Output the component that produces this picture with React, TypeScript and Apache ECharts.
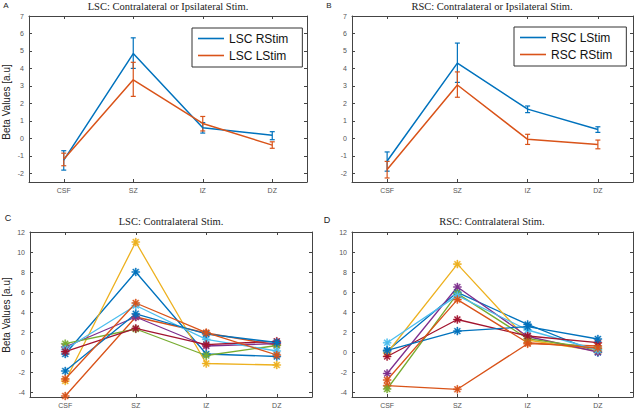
import React, { useEffect, useRef } from "react";
import * as echarts from "echarts";

const categories = ["CSF", "SZ", "IZ", "DZ"];
const ticksTop = [-2, -1, 0, 1, 2, 3, 4, 5, 6, 7];
const ticksBottom = [-4, -2, 0, 2, 4, 6, 8, 10, 12];

// Panel A
const lscRStim = [-1.25, 4.85, 0.6, 0.18];
const lscRStimLow = [-1.82, 4.0, 0.3, -0.08];
const lscRStimHigh = [-0.71, 5.75, 0.9, 0.38];
const lscLStim = [-1.2, 3.35, 0.85, -0.39];
const lscLStimLow = [-1.57, 2.4, 0.42, -0.57];
const lscLStimHigh = [-0.85, 4.35, 1.25, -0.2];

// Panel B
const rscLStim = [-1.3, 4.3, 1.67, 0.5];
const rscLStimLow = [-1.88, 3.2, 1.47, 0.34];
const rscLStimHigh = [-0.78, 5.45, 1.85, 0.66];
const rscRStim = [-1.78, 3.05, -0.06, -0.35];
const rscRStimLow = [-2.27, 2.35, -0.35, -0.6];
const rscRStimHigh = [-1.32, 3.8, 0.23, -0.1];

// Panel C (individual subjects)
const lscSubjects = [
  [-0.2, 8.0, -0.2, -0.45],
  [-4.4, 3.5, 1.9, 0.7],
  [-2.9, 11.0, -1.15, -1.3],
  [0.5, 3.5, 0.6, 0.85],
  [0.83, 2.3, -0.35, 0.65],
  [0.27, 4.65, 1.26, 0.1],
  [0.04, 2.36, 0.74, 1.07],
  [-1.9, 3.82, 1.8, 0.95],
  [-2.7, 4.9, 1.93, -0.3],
];

// Panel D (individual subjects)
const rscSubjects = [
  [0.1, 5.97, 2.76, -0.05],
  [-3.37, -3.73, 0.83, 0.6],
  [-0.1, 8.79, 1.2, 0.1],
  [-2.15, 6.5, 1.55, 0.0],
  [-3.7, 5.84, 1.33, 0.3],
  [0.93, 5.64, 2.2, 0.2],
  [-0.45, 3.25, 1.6, 0.93],
  [0.17, 2.09, 2.53, 1.3],
  [-2.8, 5.24, 0.93, 0.4],
];

const palette = ["#0072BD", "#D95319", "#EDB120", "#7E2F8E", "#77AC30", "#4DBEEE", "#A2142F"];

const AXIS = "#444";
const LABEL = "#555";
const STAR =
  "path://M-5,-0.7L5,-0.7L5,0.7L-5,0.7Z M-0.7,-5L0.7,-5L0.7,5L-0.7,5Z M-3.04,-4.03L4.03,3.04L3.04,4.03L-4.03,-3.04Z M3.04,-4.03L4.03,-3.04L-3.04,4.03L-4.03,3.04Z";

const grids = [
  { left: 29, top: 16, width: 278, height: 166 },
  { left: 352, top: 16, width: 281, height: 166 },
  { left: 30, top: 232, width: 282, height: 165 },
  { left: 352, top: 232, width: 281, height: 165 },
];

function buildAxes() {
  const xAxis: any[] = [];
  const yAxis: any[] = [];
  grids.forEach((_, p) => {
    const ticks = p < 2 ? ticksTop : ticksBottom;
    const min = p < 2 ? -2.5 : -4.5;
    const max = p < 2 ? 7 : 12;
    ["bottom", "top"].forEach((pos) => {
      xAxis.push({
        type: "category",
        gridIndex: p,
        position: pos,
        data: categories,
        boundaryGap: true,
        axisLine: { show: true, onZero: false, lineStyle: { color: AXIS, width: 1 } },
        axisTick: { show: true, inside: true, alignWithLabel: true, length: 3, lineStyle: { color: AXIS } },
        axisLabel: { show: pos === "bottom", fontSize: 7, color: LABEL, margin: 5, fontFamily: "Liberation Sans" },
        splitLine: { show: false },
      });
    });
    ["left", "right"].forEach((pos) => {
      yAxis.push({
        type: "value",
        gridIndex: p,
        position: pos,
        min,
        max,
        axisLine: { show: true, onZero: false, lineStyle: { color: AXIS, width: 1 } },
        axisTick: { show: true, inside: true, length: 3, customValues: ticks, lineStyle: { color: AXIS } },
        axisLabel: { show: pos === "left", customValues: ticks, fontSize: 7, color: LABEL, margin: 5, fontFamily: "Liberation Sans" },
        splitLine: { show: false },
      });
    });
  });
  return { xAxis, yAxis };
}

function errorSeries(p: number, low: number[], high: number[], color: string) {
  return {
    type: "custom",
    xAxisIndex: 2 * p,
    yAxisIndex: 2 * p,
    silent: true,
    z: 3,
    encode: { x: 0, y: [1, 2] },
    data: categories.map((_, i) => [i, low[i], high[i]]),
    renderItem: (params: any, api: any) => {
      const x = api.value(0);
      const lo = api.coord([x, api.value(1)]);
      const hi = api.coord([x, api.value(2)]);
      const w = 2.5;
      const st = { stroke: color, lineWidth: 1.2 };
      return {
        type: "group",
        children: [
          { type: "line", shape: { x1: lo[0], y1: lo[1], x2: hi[0], y2: hi[1] }, style: st },
          { type: "line", shape: { x1: lo[0] - w, y1: lo[1], x2: lo[0] + w, y2: lo[1] }, style: st },
          { type: "line", shape: { x1: hi[0] - w, y1: hi[1], x2: hi[0] + w, y2: hi[1] }, style: st },
        ],
      };
    },
  };
}

function meanSeries(p: number, name: string, data: number[], color: string) {
  return {
    type: "line",
    name,
    xAxisIndex: 2 * p,
    yAxisIndex: 2 * p,
    data,
    symbol: "none",
    z: 3,
    color,
    lineStyle: { color, width: 1.5 },
  };
}

function subjectSeries(p: number, rows: number[][]) {
  return rows.map((row, i) => {
    const color = palette[i % palette.length];
    return {
      type: "line",
      xAxisIndex: 2 * p,
      yAxisIndex: 2 * p,
      data: row,
      symbol: STAR,
      symbolSize: 8,
      showSymbol: true,
      z: 3,
      itemStyle: { color, borderColor: color, borderWidth: 0.4 },
      lineStyle: { color, width: 1.3 },
    };
  });
}

function legend(left: number, top: number, names: string[]) {
  return {
    data: names,
    orient: "vertical",
    left,
    top,
    backgroundColor: "#fff",
    borderColor: "#333",
    borderWidth: 1,
    padding: [4, 14, 5, 6],
    itemGap: 4,
    itemWidth: 26,
    itemHeight: 1.6,
    icon: "rect",
    selectedMode: false,
    textStyle: { fontSize: 12, fontFamily: "Liberation Sans", color: "#111", lineHeight: 13 },
  };
}

function text(x: number, y: number, t: string, size: number, family: string, extra: any = {}) {
  return {
    type: "text",
    x,
    y,
    z: 10,
    ...extra,
    style: { text: t, fontSize: size, fontFamily: family, fill: "#222", align: "center", verticalAlign: "middle" },
  };
}

export default function App() {
  const ref = useRef<HTMLDivElement>(null);
  useEffect(() => {
    if (!ref.current) return;
    const chart = echarts.init(ref.current, undefined, { renderer: "svg" });
    const { xAxis, yAxis } = buildAxes();
    const option: any = {
      animation: false,
      backgroundColor: "#fff",
      grid: grids.map((g) => ({ ...g, containLabel: false })),
      xAxis,
      yAxis,
      legend: [
        legend(192, 28, ["LSC RStim", "LSC LStim"]),
        legend(514, 27, ["RSC LStim", "RSC RStim"]),
      ],
      series: [
        meanSeries(0, "LSC RStim", lscRStim, palette[0]),
        errorSeries(0, lscRStimLow, lscRStimHigh, palette[0]),
        meanSeries(0, "LSC LStim", lscLStim, palette[1]),
        errorSeries(0, lscLStimLow, lscLStimHigh, palette[1]),
        meanSeries(1, "RSC LStim", rscLStim, palette[0]),
        errorSeries(1, rscLStimLow, rscLStimHigh, palette[0]),
        meanSeries(1, "RSC RStim", rscRStim, palette[1]),
        errorSeries(1, rscRStimLow, rscRStimHigh, palette[1]),
        ...subjectSeries(2, lscSubjects),
        ...subjectSeries(3, rscSubjects),
      ],
      graphic: [
        text(6, 5, "A", 8, "Liberation Sans"),
        text(329, 5, "B", 8, "Liberation Sans"),
        text(8, 218, "C", 9, "Liberation Sans"),
        text(327, 220, "D", 9, "Liberation Sans"),
        text(168, 6, "LSC: Contralateral or Ipsilateral Stim.", 10.5, "Liberation Serif"),
        text(492, 6, "RSC: Contralateral or Ipsilateral Stim.", 10.5, "Liberation Serif"),
        text(171, 221, "LSC: Contralateral Stim.", 10.5, "Liberation Serif"),
        text(492, 221, "RSC: Contralateral Stim.", 10.5, "Liberation Serif"),
        text(6, 102, "Beta Values [a.u]", 10, "Liberation Sans", { rotation: Math.PI / 2 }),
        text(6, 315, "Beta Values [a.u]", 10, "Liberation Sans", { rotation: Math.PI / 2 }),
      ],
    };
    chart.setOption(option);
    return () => chart.dispose();
  }, []);
  return (
    <div
      ref={ref}
      style={{ position: "absolute", left: 0, top: 0, width: 635, height: 409, background: "#fff" }}
    />
  );
}
